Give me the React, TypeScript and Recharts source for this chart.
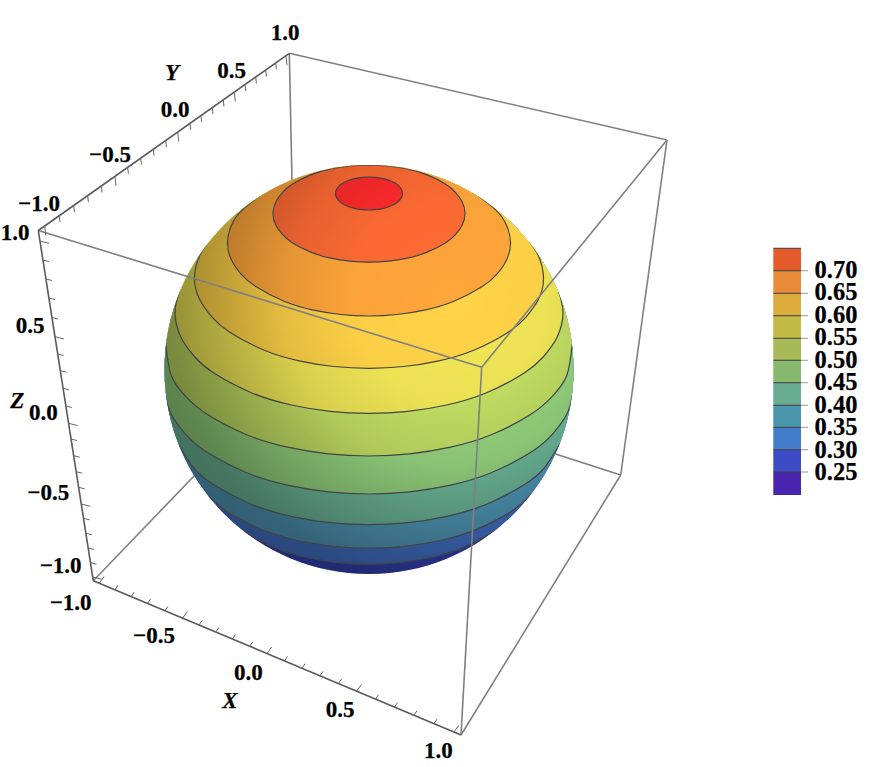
import React from 'react';
import { ScatterChart, Scatter, XAxis, YAxis } from 'recharts';

type Pt = { x: number; y: number };
type Half = number[][];

// Sphere outline centre in chart units
const sphereCentre: Pt[] = [{ x: 369, y: 369.5 }];
const sphereRadius = 204.5;

// Level curves on the sphere: half arcs as [offset from centre line, y]
const contour70: Half = [[0,210],[6.7,209.7],[13.4,208.6],[20.1,206.7],[26.8,203.4],[30.2,200.7],[32.5,197.5],[33.5,193.5],[32.5,189.5],[30.2,186.3],[26.8,183.6],[20.1,180.3],[13.4,178.4],[6.7,177.3],[0,177]];
const contour65: Half = [[0,262.1],[19.2,261.1],[38.4,258.1],[57.6,252.4],[76.8,242.7],[86.4,234.7],[93.1,225.3],[96,213.5],[93.1,201.7],[86.4,192.3],[76.8,184.3],[57.6,174.6],[38.4,168.9],[19.2,165.9],[0,164.9]];
const contour60: Half = [[0,316],[28.3,314.5],[56.6,309.9],[84.9,301.3],[113.2,286.6],[127.4,274.6],[137.3,260.4],[141.5,242.6],[137.3,224.8],[127.4,210.6],[108.7,195.6]];
const contour55: Half = [[0,368.3],[34.9,366.5],[69.8,360.8],[104.7,350.2],[139.6,332],[157,317.1],[169.3,299.6],[174.5,277.6],[169.3,255.6],[161.7,243.6]];
const contour50: Half = [[0,413.4],[38.8,411.4],[77.6,405],[116.4,393.2],[155.2,373.1],[174.6,356.5],[188.2,337.1],[194,312.6],[189.7,291.6]];
const contour45: Half = [[0,456],[40.8,453.9],[81.5,447.2],[122.3,434.8],[163,413.6],[183.4,396.2],[197.7,375.8],[203.3,343]];
const contour40: Half = [[0,494],[40.8,491.9],[81.6,485.2],[122.3,472.8],[163.1,451.6],[183.5,434.2],[198,413.8],[203.5,394.8]];
const contour35: Half = [[0,524.7],[39,522.7],[78,516.3],[117,504.5],[156,484.3],[175.5,467.7],[191,443.7]];
const contour30: Half = [[0,548.2],[35.7,546.3],[71.5,540.5],[107.2,529.6],[143,511],[160.8,495.8],[168,487.3]];
const contour25: Half = [[0,564.2],[31.2,562.6],[62.3,557.5],[93.5,548],[124.6,531.8],[133,525.2]];

const openContours = [contour25, contour30, contour35, contour40, contour45, contour50, contour55, contour60];
const openColours = ['#4678D2', '#549FC0', '#70BE9E', '#98D880', '#C4E064', '#F0E656', '#FFD347', '#FFA63A'];
const closedContours = [contour65, contour70];
const closedColours = ['#FF6B34', '#FF2A2C'];
const sphereBaseColour = '#3646BE';

// Cube corners
const cornerA = { x: 38.3, y: 230.5 };
const cornerB = { x: 93.3, y: 580.7 };
const cornerC = { x: 461, y: 735 };
const cornerD = { x: 481.7, y: 367.3 };
const cornerE = { x: 289.3, y: 53.3 };
const cornerF = { x: 667, y: 140 };
const cornerG = { x: 620.7, y: 475 };
const cornerH = { x: 296, y: 370 };
const rearEdges = [[cornerE, cornerF], [cornerE, cornerH], [cornerF, cornerG], [cornerH, cornerG], [cornerB, cornerH]];
const frontEdges = [[cornerA, cornerD], [cornerD, cornerF], [cornerD, cornerC], [cornerC, cornerG]];
const axisEdges = [[cornerA, cornerE], [cornerA, cornerB], [cornerB, cornerC]];

// Axis ticks, -1.0 to 1.0 in steps of 0.1
const tickValues = [-1,-0.9,-0.8,-0.7,-0.6,-0.5,-0.4,-0.3,-0.2,-0.1,0,0.1,0.2,0.3,0.4,0.5,0.6,0.7,0.8,0.9,1];
const yTickX = [44.7,59.3,73.7,87.7,101.3,115,127.7,140.7,153.3,165.7,177.7,190,201,212.3,223.3,234.3,245,255.7,265.7,275.7,286];
const zTickY = [577,562.7,548,533.3,518.3,504,487.3,471.7,455.7,439,423.3,406,388.3,370.7,354,336.7,317.5,298,279,260,241];
const xTickX = [99.3,115,131.2,147.6,165,182.7,199,215.7,232.5,249.7,267,284.5,302,320,338.5,356.7,375.5,394.5,414,434,454];

const axisLabels = [
  { x: 285, y: 32, label: '1.0' }, { x: 231.7, y: 70, label: '0.5' }, { x: 175, y: 109, label: '0.0' },
  { x: 110, y: 154, label: '\u22120.5' }, { x: 39, y: 203, label: '\u22121.0' },
  { x: 15, y: 232, label: '1.0' }, { x: 30, y: 325, label: '0.5' }, { x: 43.3, y: 412, label: '0.0' },
  { x: 48.3, y: 492, label: '\u22120.5' }, { x: 60.7, y: 565, label: '\u22121.0' },
  { x: 70.7, y: 602, label: '\u22121.0' }, { x: 154, y: 635, label: '\u22120.5' }, { x: 248.3, y: 672, label: '0.0' },
  { x: 340, y: 709.3, label: '0.5' }, { x: 438.3, y: 750, label: '1.0' },
];
const axisTitles = [
  { x: 172, y: 72, label: 'Y', italic: true }, { x: 17.3, y: 400, label: 'Z', italic: true }, { x: 230, y: 700, label: 'X', italic: true },
];

// Colour legend
const legendValues = ['0.70','0.65','0.60','0.55','0.50','0.45','0.40','0.35','0.30','0.25'];
const legendEdgesY = [248.3,270.7,293.3,315.7,338.3,360.3,382.7,405.3,427.3,449.7,472,495];
const legendColours = ['#E55A2A','#E98B38','#DCAB3C','#C3BA45','#A6BB58','#86B86E','#68AD92','#4A97AD','#437CCB','#3D4CC6','#4A25B0'];
const legendLeft = 773.3;
const legendRight = 801;
const legendTickEnd = 808;
const legendLabelX = 836;
const legendLabelY = [269.5,291.7,314,336.7,359,381.7,404,426.3,449,471.3];

const W = 872, H = 767;
const cxMid = sphereCentre[0].x;

const mirror = (h: Half): Pt[] => [
  ...h.slice(1).reverse().map(([d, y]) => ({ x: cxMid - d, y })),
  ...h.map(([d, y]) => ({ x: cxMid + d, y })),
];
const region = (h: Half): Pt[] => {
  const arc = mirror(h);
  const l = arc[0], r = arc[arc.length - 1];
  return [...arc, { x: 640, y: r.y }, { x: 640, y: 100 }, { x: 100, y: 100 }, { x: 100, y: l.y }];
};

const NoMark = () => <g />;
const poly = (key: string, data: Pt[], line: any, curve: string = 'linear') => (
  <Scatter key={key} data={data} line={line} lineType="joint" lineJointType={curve as any} shape={NoMark} isAnimationActive={false} legendType="none" />
);

const TextMark = (p: any) => (
  <text x={p.cx} y={p.cy} textAnchor="middle" dominantBaseline="central"
    fontFamily="'Liberation Serif', serif" fontWeight="bold" fontStyle={p.payload.italic ? 'italic' : 'normal'}
    fontSize={p.payload.size ?? 23} fill="#000" stroke="#000" strokeWidth={0.25}>{p.payload.label}</text>
);
const TickMark = (p: any) => (
  <line x1={p.cx} y1={p.cy} x2={p.cx + p.payload.dx} y2={p.cy + p.payload.dy} stroke="#666" strokeWidth={1} />
);
const DiscFill = (fill: string) => (p: any) => <circle cx={p.cx} cy={p.cy} r={sphereRadius} fill={fill} />;

const major = (v: number) => Math.abs(Math.round(v * 10)) % 5 === 0;
const yTicks = tickValues.map((v, i) => ({
  x: yTickX[i], y: cornerA.y + (yTickX[i] - cornerA.x) * (cornerE.y - cornerA.y) / (cornerE.x - cornerA.x),
  dx: major(v) ? 1 : 0.7, dy: major(v) ? 9.5 : 6.5,
}));
const zTicks = tickValues.map((v, i) => ({
  x: cornerA.x + (zTickY[i] - cornerA.y) * (cornerB.x - cornerA.x) / (cornerB.y - cornerA.y), y: zTickY[i],
  dx: major(v) ? 9 : 6, dy: major(v) ? 2.3 : 1.5,
}));
const xTicks = tickValues.map((v, i) => ({
  x: xTickX[i], y: cornerB.y + (xTickX[i] - cornerB.x) * (cornerC.y - cornerB.y) / (cornerC.x - cornerB.x),
  dx: major(v) ? 4.7 : 3, dy: major(v) ? -6.7 : -4.5,
}));

export default function App() {
  return (
    <div style={{ position: 'absolute', left: 0, top: 0, width: W, height: H, background: '#fff' }}>
      <ScatterChart width={W} height={H} margin={{ top: 0, right: 0, bottom: 0, left: 0 }}>
        <defs>
          <clipPath id="disc"><circle cx={369} cy={369.5} r={sphereRadius} /></clipPath>
          <radialGradient id="shade" gradientUnits="userSpaceOnUse" cx={450} cy={300} r={330}>
            <stop offset="0" stopColor="#000" stopOpacity={0} />
            <stop offset="0.3" stopColor="#000" stopOpacity={0.02} />
            <stop offset="0.5" stopColor="#000" stopOpacity={0.1} />
            <stop offset="0.85" stopColor="#000" stopOpacity={0.38} />
            <stop offset="1" stopColor="#000" stopOpacity={0.42} />
          </radialGradient>
        </defs>
        <XAxis type="number" dataKey="x" domain={[0, W]} hide allowDataOverflow />
        <YAxis type="number" dataKey="y" domain={[0, H]} reversed hide allowDataOverflow />

        {rearEdges.map((e, i) => poly(`rear${i}`, e, { stroke: '#808080', strokeWidth: 1.6, fill: 'none' }))}

        <Scatter data={sphereCentre} shape={DiscFill(sphereBaseColour)} isAnimationActive={false} />
        {openContours.map((c, i) => poly(`band${i}`, region(c), { fill: openColours[i], stroke: 'none', clipPath: 'url(#disc)' }))}
        {closedContours.map((c, i) => poly(`cap${i}`, mirror(c), { fill: closedColours[i], stroke: 'none', clipPath: 'url(#disc)' }))}
        <Scatter data={sphereCentre} shape={DiscFill('url(#shade)')} isAnimationActive={false} />
        {[...openContours, ...closedContours].map((c, i) => poly(`line${i}`, mirror(c), { fill: 'none', stroke: '#444', strokeWidth: 1.2, clipPath: 'url(#disc)' }, 'natural'))}

        {frontEdges.map((e, i) => poly(`front${i}`, e, { stroke: '#808080', strokeWidth: 1.6, fill: 'none' }))}
        {axisEdges.map((e, i) => poly(`axis${i}`, e, { stroke: '#5a5a5a', strokeWidth: 1.6, fill: 'none' }))}
        <Scatter data={yTicks} shape={TickMark} isAnimationActive={false} />
        <Scatter data={zTicks} shape={TickMark} isAnimationActive={false} />
        <Scatter data={xTicks} shape={TickMark} isAnimationActive={false} />
        <Scatter data={axisLabels} shape={TextMark} isAnimationActive={false} />
        <Scatter data={axisTitles} shape={TextMark} isAnimationActive={false} />

        {legendColours.map((col, i) => poly(`swatch${i}`, [
          { x: legendLeft, y: legendEdgesY[i] }, { x: legendRight, y: legendEdgesY[i] },
          { x: legendRight, y: legendEdgesY[i + 1] }, { x: legendLeft, y: legendEdgesY[i + 1] },
        ], { fill: col, stroke: 'none' }))}
        {legendEdgesY.slice(0, -1).map((y, i) => poly(`divider${i}`, [{ x: legendLeft, y }, { x: legendRight, y }], { stroke: '#444', strokeWidth: 1.1, fill: 'none' }))}
        {legendEdgesY.slice(1, -1).map((y, i) => poly(`ltick${i}`, [{ x: legendRight, y }, { x: legendTickEnd, y }], { stroke: '#999', strokeWidth: 1, fill: 'none' }))}
        <Scatter data={legendValues.map((label, i) => ({ x: legendLabelX, y: legendLabelY[i], label, size: 24.5 }))} shape={TextMark} isAnimationActive={false} />
      </ScatterChart>
    </div>
  );
}
